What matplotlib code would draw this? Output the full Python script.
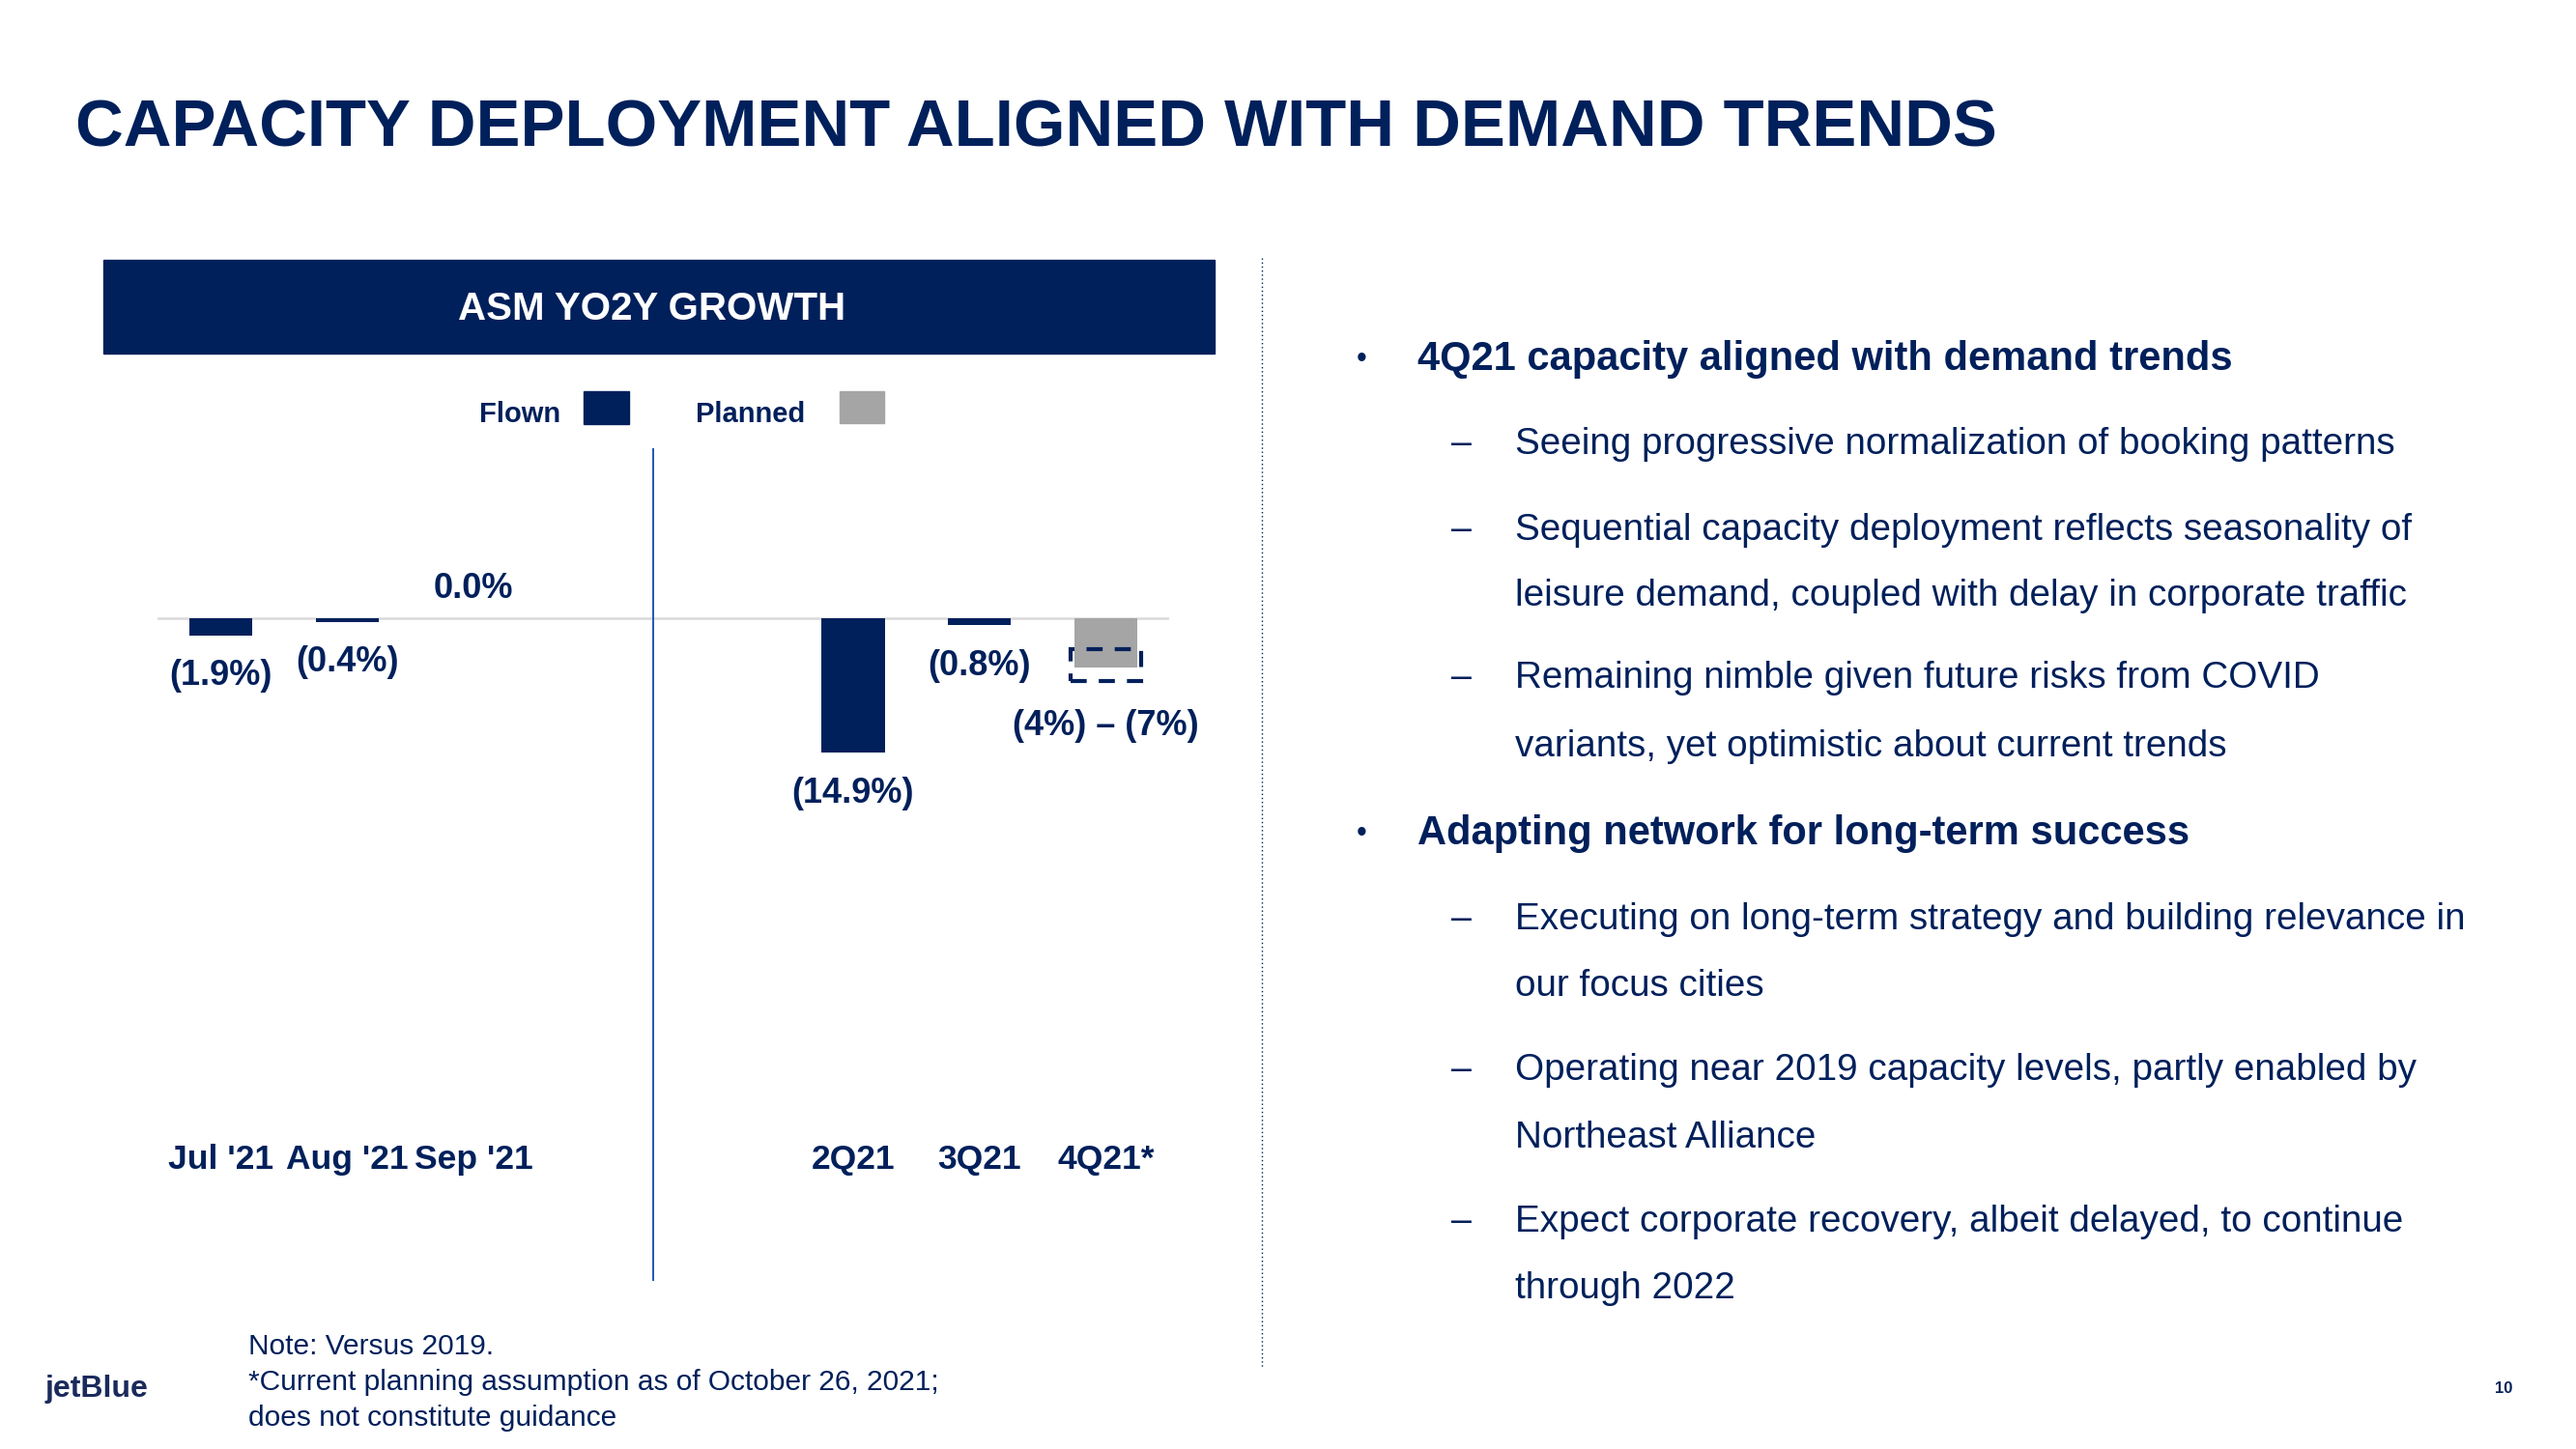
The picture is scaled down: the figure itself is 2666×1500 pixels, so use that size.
import matplotlib.pyplot as plt
from matplotlib.patches import Rectangle

# chart data
flown_labels = ["Jul '21", "Aug '21", "Sep '21", "2Q21", "3Q21"]
flown_pos = [0, 1, 2, 5, 6]
flown_vals = [-1.9, -0.4, 0.0, -14.9, -0.8]
flown_text = ["(1.9%)", "(0.4%)", "0.0%", "(14.9%)", "(0.8%)"]

planned_label = "4Q21*"
planned_pos = 7
planned_range = [-4.0, -7.0]
planned_text = "(4%) \u2013 (7%)"

bullets = [
    ("head", "4Q21 capacity aligned with demand trends", 369),
    ("sub", "Seeing progressive normalization of booking patterns", 457),
    ("sub", "Sequential capacity deployment reflects seasonality of", 546),
    ("cont", "leisure demand, coupled with delay in corporate traffic", 614),
    ("sub", "Remaining nimble given future risks from COVID", 699),
    ("cont", "variants, yet optimistic about current trends", 770),
    ("head", "Adapting network for long-term success", 860),
    ("sub", "Executing on long-term strategy and building relevance in", 949),
    ("cont", "our focus cities", 1018),
    ("sub", "Operating near 2019 capacity levels, partly enabled by", 1105),
    ("cont", "Northeast Alliance", 1175),
    ("sub", "Expect corporate recovery, albeit delayed, to continue", 1262),
    ("cont", "through 2022", 1331),
]

NAVY = '#00205B'
GRAY = '#A5A5A5'
W, H = 2666, 1500

plt.rcParams['font.family'] = ['Liberation Sans', 'DejaVu Sans']


def fx(x):
    return x / W


def fy(y):
    return 1 - y / H


fig = plt.figure(figsize=(26.66, 15), dpi=100)
fig.patch.set_facecolor('white')

# slide title
fig.text(fx(78), fy(133), "CAPACITY DEPLOYMENT ALIGNED WITH DEMAND TRENDS",
         fontsize=49.6, fontweight='bold', color=NAVY, va='center', ha='left')

# chart header box
fig.patches.append(Rectangle((fx(107), fy(366)), (1257 - 107) / W, (366 - 269) / H,
                             transform=fig.transFigure, color=NAVY))
fig.text(fx(675), fy(320), "ASM YO2Y GROWTH", fontsize=29, fontweight='bold',
         color='white', ha='center', va='center')

# legend
fig.text(fx(580), fy(429), "Flown", fontsize=21, fontweight='bold', color=NAVY,
         ha='right', va='center')
fig.patches.append(Rectangle((fx(604), fy(439)), 47 / W, 34 / H,
                             transform=fig.transFigure, color=NAVY))
fig.text(fx(720), fy(429), "Planned", fontsize=21, fontweight='bold', color=NAVY,
         ha='left', va='center')
fig.patches.append(Rectangle((fx(869), fy(438)), 46 / W, 33 / H,
                             transform=fig.transFigure, color=GRAY))

# bar chart
ax = fig.add_axes([fx(163), fy(1326), (1210 - 163) / W, (1326 - 464) / H])
ax.set_xlim(-0.5, 7.5)
ax.set_ylim(-73.5, 18.86)
ax.axis('off')

ax.axhline(0, color='#D9D9D9', lw=1.8, zorder=1)
ax.axvline(3.42, color='#2256B0', lw=1.4, zorder=1)

ax.bar(flown_pos, flown_vals, width=0.5, color=NAVY, zorder=2)
mid = sum(planned_range) / 2
ax.bar(planned_pos, mid, width=0.5, color=GRAY, zorder=2)
ax.add_patch(Rectangle((planned_pos - 0.28, planned_range[1]), 0.56,
                       planned_range[0] - planned_range[1] + 0.6, fill=False,
                       edgecolor=NAVY, lw=3, ls=(0, (4, 3)), zorder=3))

for x, v, t in zip(flown_pos, flown_vals, flown_text):
    off = 31 if v >= 0 else -42
    ax.annotate(t, (x, v), xytext=(0, off), textcoords='offset pixels',
                ha='center', va='center', fontsize=26, fontweight='bold', color=NAVY)
ax.annotate(planned_text, (planned_pos, planned_range[1]), xytext=(0, -46),
            textcoords='offset pixels', ha='center', va='center',
            fontsize=26, fontweight='bold', color=NAVY)

xt = ax.get_xaxis_transform()
for x, lab in zip(flown_pos + [planned_pos], flown_labels + [planned_label]):
    ax.text(x, 0.146, lab, transform=xt, ha='center', va='center',
            fontsize=25.5, fontweight='bold', color=NAVY)

# footnote
fig.text(fx(257), fy(1394), "Note: Versus 2019.", fontsize=21.5, color=NAVY, va='center')
fig.text(fx(257), fy(1431), "*Current planning assumption as of October 26, 2021;",
         fontsize=21.5, color=NAVY, va='center')
fig.text(fx(257), fy(1468), "does not constitute guidance", fontsize=21.5,
         color=NAVY, va='center')

# logo and page number
fig.text(fx(46), fy(1438), "jetBlue", fontsize=23, fontweight='bold',
         color='#1B2A5C', va='center')
fig.text(fx(2591), fy(1438), "10", fontsize=12, fontweight='bold', color=NAVY,
         ha='center', va='center')

# dotted separator
fig.add_artist(plt.Line2D([fx(1306), fx(1306)], [fy(267), fy(1416)],
                          color=NAVY, lw=1, ls=(0, (1, 2))))

# right-hand bullet text
for kind, text, y in bullets:
    y = y + 3
    if kind == 'head':
        fig.text(fx(1409), fy(y), "\u2022", fontsize=22, color=NAVY, ha='center', va='center')
        fig.text(fx(1467), fy(y), text, fontsize=30, fontweight='bold', color=NAVY, va='center')
    else:
        if kind == 'sub':
            fig.text(fx(1513), fy(y), "\u2013", fontsize=27, color=NAVY, ha='center', va='center')
        fig.text(fx(1568), fy(y), text, fontsize=27.8, color=NAVY, va='center')

fig.savefig('out.png', dpi=100)
